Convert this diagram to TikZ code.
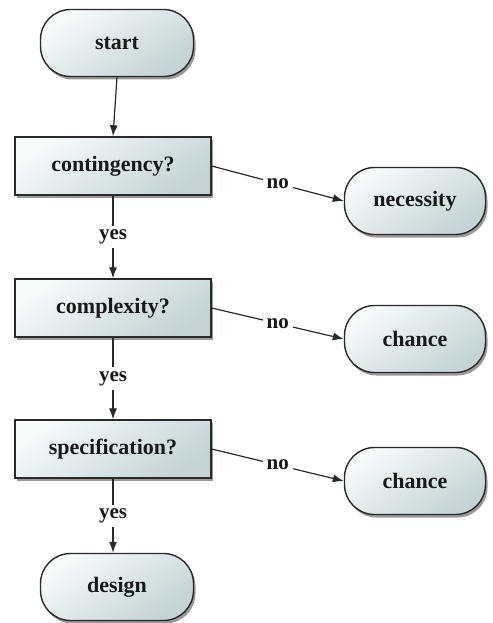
\documentclass[tikz,border=0pt]{standalone}
\usepackage{fontspec}
\setmainfont{Liberation Serif}
\usetikzlibrary{shadows,arrows.meta}
\definecolor{boxdark}{HTML}{C4D3D4}
\definecolor{boxlight}{HTML}{F8FAFA}
\definecolor{edgegray}{HTML}{2A2A2A}
\begin{document}
\begin{tikzpicture}[x=1pt,y=-1pt,
  base/.style={draw=edgegray, line width=1.4pt, shading=axis, top color=boxlight, bottom color=boxdark, shading angle=35,
    drop shadow={shadow xshift=2pt, shadow yshift=-3pt, opacity=0.4, fill=black},
    inner sep=0pt, font=\fontsize{22}{26}\selectfont\bfseries, text=black!90},
  term/.style={base, rounded corners=30pt, minimum width=153pt, minimum height=67pt},
  decision/.style={base, minimum width=196pt, minimum height=58pt},
  outcome/.style={base, rounded corners=30pt, minimum width=141pt, minimum height=67pt},
  arr/.style={draw=edgegray, line width=1.2pt, -{Latex[length=11pt,width=8pt]}},
  lbl/.style={fill=white, inner sep=4pt, font=\fontsize{21}{24}\selectfont\bfseries, text=black!90}]
\useasboundingbox (0,0) rectangle (492,623);
\node[term] (start) at (117,43) {start};
\node[decision] (q1) at (113,166) {contingency?};
\node[outcome] (nec) at (415,201) {necessity};
\node[decision] (q2) at (113,308) {complexity?};
\node[outcome] (ch1) at (415,339) {chance};
\node[decision] (q3) at (113,449) {specification?};
\node[outcome] (ch2) at (415,481) {chance};
\node[term] (des) at (117,587) {design};
\draw[arr] (start.south) -- (q1.north);
\draw[arr] (q1.south) -- node[lbl]{yes} (q2.north);
\draw[arr] (q2.south) -- node[lbl]{yes} (q3.north);
\draw[arr] (q3.south) -- node[lbl]{yes} (des.north -| q3.south);
\draw[arr] (q1.east) -- node[lbl]{no} (nec.west);
\draw[arr] (q2.east) -- node[lbl]{no} (ch1.west);
\draw[arr] (q3.east) -- node[lbl]{no} (ch2.west);
\end{tikzpicture}
\end{document}
